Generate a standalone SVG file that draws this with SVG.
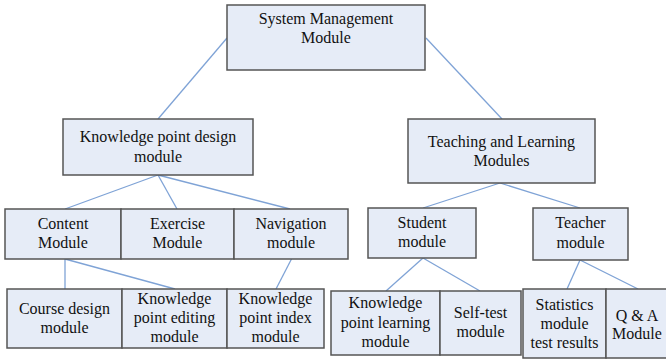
<svg xmlns="http://www.w3.org/2000/svg" width="666" height="360" viewBox="0 0 666 360">
<style>
.box{fill:#E6ECF7;stroke:#555;stroke-width:1.5}
.t{font-family:"Liberation Serif","Times New Roman",serif;font-size:16px;fill:#111;text-anchor:middle}
.c{stroke:#7FA3D6;stroke-width:1.3;fill:none}
</style>
<rect width="666" height="360" fill="#fff"/>
<g id="connectors">
<line class="c" x1="227" y1="38" x2="158" y2="119"/>
<line class="c" x1="426" y1="38" x2="502" y2="119"/>
<line class="c" x1="158" y1="175" x2="65" y2="209"/>
<line class="c" x1="158" y1="175" x2="177" y2="209"/>
<line class="c" x1="158" y1="175" x2="290" y2="209"/>
<line class="c" x1="65" y1="259" x2="65" y2="289"/>
<line class="c" x1="65" y1="259" x2="175" y2="289"/>
<line class="c" x1="292" y1="258" x2="276" y2="289"/>
<line class="c" x1="500" y1="183" x2="423" y2="208"/>
<line class="c" x1="500" y1="183" x2="580" y2="208"/>
<line class="c" x1="423" y1="258" x2="386" y2="291"/>
<line class="c" x1="423" y1="258" x2="480" y2="291"/>
<line class="c" x1="580" y1="260" x2="567" y2="289"/>
<line class="c" x1="580" y1="260" x2="638" y2="289"/>
</g>
<g id="system">
<rect class="box" x="227" y="5" width="198" height="65"/>
<text class="t" x="326" y="24">System Management</text>
<text class="t" x="326" y="43">Module</text>
</g>
<g id="kpdesign">
<rect class="box" x="63" y="119" width="190" height="56"/>
<text class="t" x="158" y="142">Knowledge point design</text>
<text class="t" x="158" y="162">module</text>
</g>
<g id="teaching">
<rect class="box" x="408" y="119" width="187" height="64"/>
<text class="t" x="501.5" y="147">Teaching and Learning</text>
<text class="t" x="501.5" y="166">Modules</text>
</g>
<g id="content">
<rect class="box" x="5" y="209" width="116" height="50"/>
<text class="t" x="63" y="229">Content</text>
<text class="t" x="63" y="248">Module</text>
</g>
<g id="exercise">
<rect class="box" x="121" y="209" width="113" height="50"/>
<text class="t" x="177.5" y="229">Exercise</text>
<text class="t" x="177.5" y="248">Module</text>
</g>
<g id="navigation">
<rect class="box" x="234" y="209" width="114" height="50"/>
<text class="t" x="291" y="229">Navigation</text>
<text class="t" x="291" y="248">module</text>
</g>
<g id="student">
<rect class="box" x="368" y="208" width="108" height="50"/>
<text class="t" x="422" y="228">Student</text>
<text class="t" x="422" y="247">module</text>
</g>
<g id="teacher">
<rect class="box" x="533" y="208" width="95" height="52"/>
<text class="t" x="580.5" y="228">Teacher</text>
<text class="t" x="580.5" y="248">module</text>
</g>
<g id="course">
<rect class="box" x="7" y="289" width="115" height="59"/>
<text class="t" x="64.5" y="314">Course design</text>
<text class="t" x="64.5" y="333">module</text>
</g>
<g id="kpediting">
<rect class="box" x="122" y="289" width="105" height="59"/>
<text class="t" x="174.5" y="304">Knowledge</text>
<text class="t" x="174.5" y="323">point editing</text>
<text class="t" x="174.5" y="342">module</text>
</g>
<g id="kpindex">
<rect class="box" x="227" y="289" width="97" height="59"/>
<text class="t" x="275.5" y="304">Knowledge</text>
<text class="t" x="275.5" y="323">point index</text>
<text class="t" x="275.5" y="342">module</text>
</g>
<g id="kplearning">
<rect class="box" x="331" y="291" width="109" height="64"/>
<text class="t" x="385.5" y="308">Knowledge</text>
<text class="t" x="385.5" y="328">point learning</text>
<text class="t" x="385.5" y="347">module</text>
</g>
<g id="selftest">
<rect class="box" x="440" y="291" width="81" height="64"/>
<text class="t" x="480.5" y="318">Self-test</text>
<text class="t" x="480.5" y="337">module</text>
</g>
<g id="statistics">
<rect class="box" x="523" y="289" width="83" height="69"/>
<text class="t" x="564.5" y="310">Statistics</text>
<text class="t" x="564.5" y="329">module</text>
<text class="t" x="564.5" y="348">test results</text>
</g>
<g id="qa">
<rect class="box" x="606" y="289" width="62" height="69"/>
<text class="t" x="637" y="321">Q &amp; A</text>
<text class="t" x="637" y="339">Module</text>
</g>
</svg>
